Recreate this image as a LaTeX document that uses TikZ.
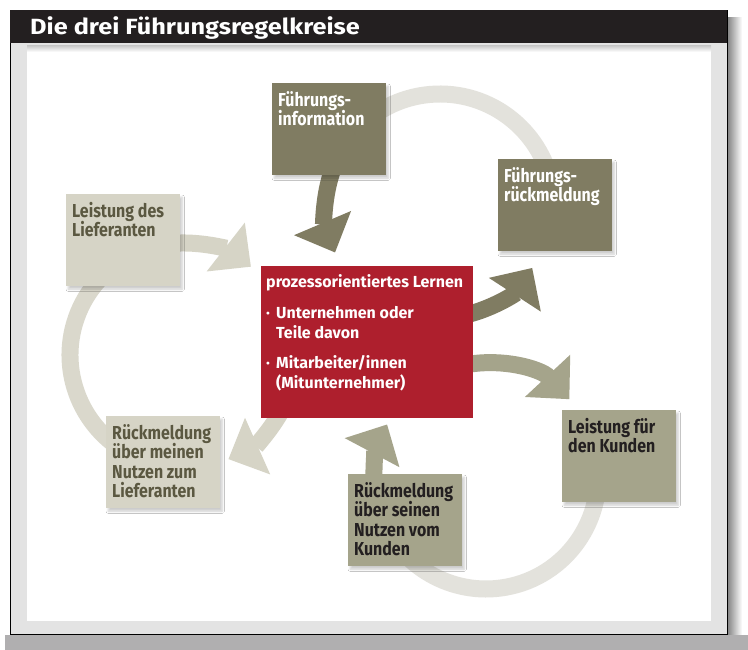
\documentclass[tikz,border=0pt]{standalone}
\usepackage{fontspec}
\setmainfont{Fira Sans}[FakeStretch=0.85]
\newfontfamily\plainfont{Fira Sans}
\newfontfamily\titlefont{Fira Sans}[FakeStretch=1.15]
\usetikzlibrary{arrows.meta,shadows.blur}

\definecolor{fdark}{HTML}{807C62}
\definecolor{fmid}{HTML}{A5A48B}
\definecolor{flight}{HTML}{D6D4C6}
\definecolor{farc}{HTML}{E3E2DC}
\definecolor{larc}{HTML}{DAD8CC}
\definecolor{fred}{HTML}{AE1F2D}
\definecolor{ltext}{HTML}{5B5841}
\definecolor{ktext}{HTML}{231F20}
\definecolor{titlebar}{HTML}{231F20}
\definecolor{framegray}{HTML}{E3E3E3}
\definecolor{shadowgray}{HTML}{B0AFB0}

\newcommand{\boxtext}[1]{\parbox[t][80pt][t]{102pt}{\rule{0pt}{17pt}#1}}

\tikzset{
	box/.style={anchor=north west, inner sep=6pt, font=\bfseries\fontsize{18.75}{19.5}\selectfont,
		blur shadow={shadow xshift=2pt, shadow yshift=-3pt, shadow opacity=20, shadow blur steps=6}},
	ring/.style={line width=17pt},
	loop arrow/.style={line width=17pt, -{Triangle[width=60pt,length=32pt]}}
}

\begin{document}
\begin{tikzpicture}[x=1pt, y=1pt]
				\useasboundingbox (0,0) rectangle (748,650);
				% frame
				\fill[shadowgray] (5,0) rectangle (748,15);
				\shade[left color=black!50, right color=white] (727,15) rectangle (742,632);
				\filldraw[fill=framegray, draw=black, line width=0.8pt] (10,16) rectangle (727,640);
				\fill[white] (27,29) rectangle (711,604);
				\shade[top color=black!20, bottom color=white] (27,598) rectangle (711,604);
				\fill[titlebar] (10,607) rectangle (727,640);
				\node[anchor=base west, inner sep=0pt, text=white, font=\titlefont\bfseries\fontsize{22}{24}\selectfont] (title) at (30,615.3) {Die drei Führungsregelkreise};

				\coordinate (ctop) at (440,442);
				\coordinate (cleft) at (182,295);
				\coordinate (cright) at (486,173);

				\draw[ring, farc] (ctop) ++(140:114) arc[start angle=140, end angle=10, radius=114];
				\draw[ring, larc] (cleft) ++(110:112) arc[start angle=110, end angle=250, radius=112];
				\draw[ring, farc] (cright) ++(10:112) arc[start angle=10, end angle=-160, radius=112];

				\draw[loop arrow, fdark] (ctop) ++(160:114) arc[start angle=160, end angle=203, radius=114];
				\draw[loop arrow, fdark] (ctop) ++(-80:110) arc[start angle=-80, end angle=-33, radius=110];
				\draw[loop arrow, flight] (cleft) ++(95:112) arc[start angle=95, end angle=52, radius=112];
				\draw[loop arrow, flight] (cleft) ++(-25:114) arc[start angle=-25, end angle=-66, radius=114];
				\draw[loop arrow, fmid] (cright) ++(105:114) arc[start angle=105, end angle=43, radius=114];
				\draw[loop arrow, fmid] (cright) ++(185:112) arc[start angle=185, end angle=152, radius=112];

				\node[box, fill=fdark, text=white] (finfo) at (272,567) {\boxtext{Führungs-\\information}};
				\node[box, fill=fdark, text=white] (frueck) at (498,491) {\boxtext{Führungs-\\rückmeldung}};
				\node[box, fill=flight, text=ltext] (lief) at (66,456) {\boxtext{Leistung des\\Lieferanten}};
				\node[box, fill=flight, text=ltext] (rmein) at (106,234) {\boxtext{Rückmeldung\\über meinen\\Nutzen zum\\Lieferanten}};
				\node[box, fill=fmid, text=ktext] (rsein) at (348,176) {\boxtext{Rückmeldung\\über seinen\\Nutzen vom\\Kunden}};
				\node[box, fill=fmid, text=ktext] (kunden) at (562,240) {\boxtext{Leistung für\\den Kunden}};
				\node[anchor=north west, fill=fred, text=white, inner xsep=5pt, inner ysep=0pt,
					font=\plainfont\bfseries\fontsize{16}{20}\selectfont] (lernen) at (261,384)
					{\parbox[t][152pt][t]{202pt}{\rule{0pt}{21pt}prozessorientiertes Lernen\\[11pt]
					\makebox[10pt][l]{·}Unternehmen oder\\\hspace*{10pt}Teile davon\\[10pt]
					\makebox[10pt][l]{·}Mitarbeiter/innen\\\hspace*{10pt}(Mitunternehmer)}};
\end{tikzpicture}
\end{document}
